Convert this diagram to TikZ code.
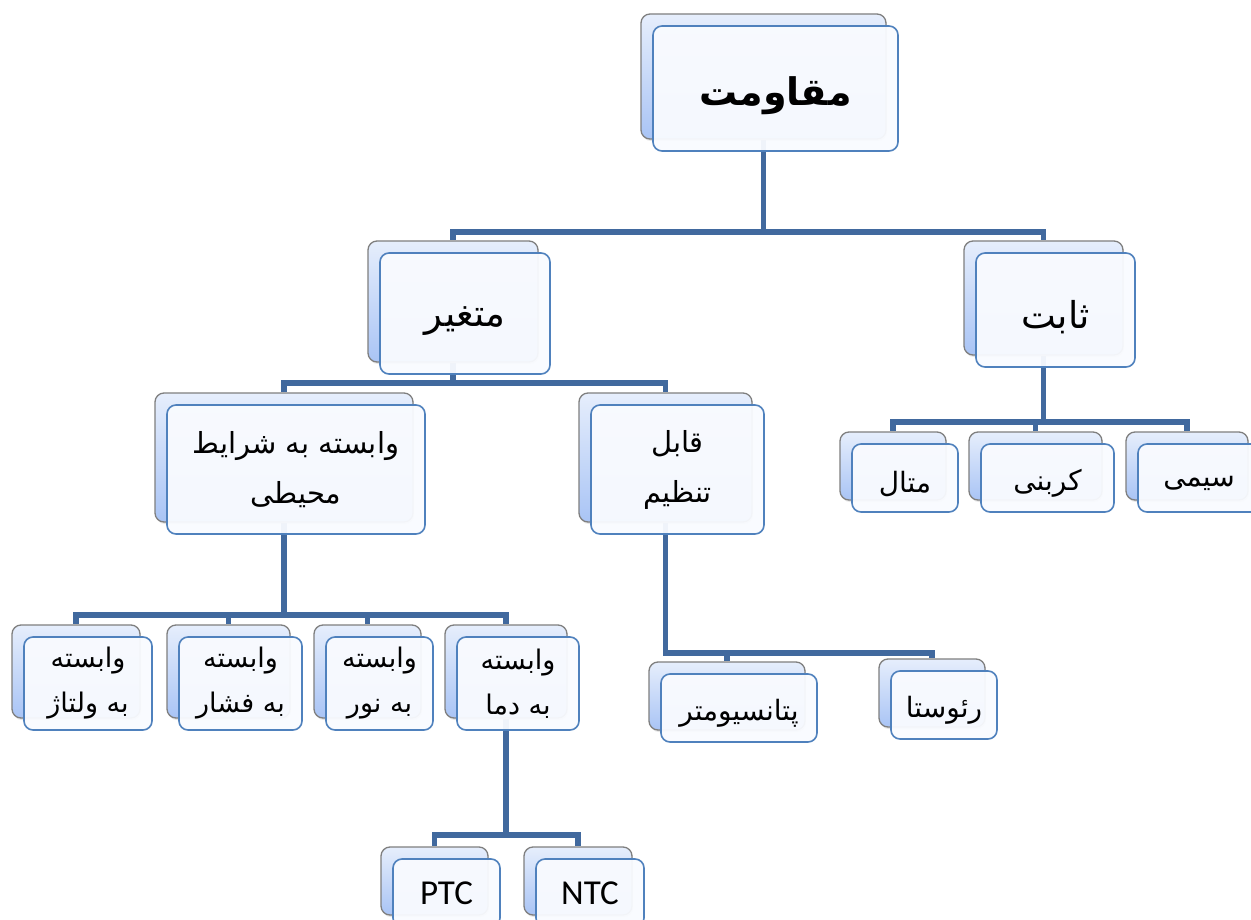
\documentclass[tikz,border=0pt]{standalone}
\usepackage{fontspec}
\usetikzlibrary{calc,shadows}
\TeXXeTstate=1
\newfontfamily\arabicfont[Script=Arabic]{DejaVu Sans}
\newfontfamily\latinfont{Carlito}
\newcommand\ar[1]{\beginR #1\endR}
\newcommand\arr[1]{\raisebox{-0.2em}[\height][\depth]{\beginR #1\endR}}
\definecolor{connc}{HTML}{41699E}
\definecolor{fborder}{HTML}{4F81BD}
\definecolor{ffill}{HTML}{F9FBFF}
\definecolor{btop}{HTML}{E6EEFC}
\definecolor{bbot}{HTML}{A9C4F5}
\definecolor{bborder}{HTML}{7F7F7F}
\pgfdeclarelayer{bg}
\pgfsetlayers{bg,main}
\tikzset{
  backbox/.style={draw=bborder, line width=1.3pt, rounded corners=9pt, top color=btop, bottom color=bbot, inner sep=0pt,
    drop shadow={opacity=0.2, shadow xshift=1pt, shadow yshift=-2pt}},
  frontbox/.style={draw=fborder, line width=1.6pt, rounded corners=9pt, fill=ffill, fill opacity=0.95, text opacity=1, inner sep=0pt, align=center},
  conn/.style={draw=connc, line width=5.5pt},
  lvlA/.style={font=\arabicfont\bfseries\fontsize{38}{46}\selectfont},
  lvlB/.style={font=\arabicfont\fontsize{37}{44}\selectfont},
  lvlC/.style={font=\arabicfont\fontsize{29}{50}\selectfont},
  lvlD/.style={font=\arabicfont\fontsize{27}{45}\selectfont},
  lvlE/.style={font=\arabicfont\fontsize{28}{40}\selectfont},
  lvlL/.style={font=\latinfont\fontsize{35}{40}\selectfont},
}
\newcommand\pair[7]{%
 \node[backbox, minimum width={(#4-#2)*1pt}, minimum height={(#5-#3)*1pt}] (#1) at ({(#2+#4)/2},{(#3+#5)/2}) {};
 \node[frontbox, #7, minimum width={(#4-#2)*1pt}, minimum height={(#5-#3)*1pt}] (#1f) at ($(#1)+(12,12)$) {#6};
}
\begin{document}
\begin{tikzpicture}[x=1pt,y=-1pt]
\useasboundingbox (0,0) rectangle (1251,920);
\pair{top}{641}{14}{886}{139}{\arr{مقاومت}}{lvlA}
\pair{var}{368}{241}{538}{362}{\arr{متغیر}}{lvlB}
\pair{fix}{964}{241}{1123}{355}{\arr{ثابت}}{lvlB}
\pair{env}{155}{393}{413}{522}{\ar{وابسته به شرایط}\\\ar{محیطی}}{lvlC}
\pair{adj}{579}{393}{752}{522}{\ar{قابل}\\\ar{تنظیم}}{lvlC}
\pair{metal}{840}{432}{946}{500}{\arr{متال}}{lvlE}
\pair{carbon}{969}{432}{1102}{500}{\arr{کربنی}}{lvlE}
\pair{wire}{1126}{432}{1248}{500}{\arr{سیمی}}{lvlE}
\pair{volt}{12}{625}{140}{718}{\ar{وابسته}\\\ar{به ولتاژ}}{lvlD}
\pair{press}{167}{625}{290}{718}{\ar{وابسته}\\\ar{به فشار}}{lvlD}
\pair{light}{314}{625}{421}{718}{\ar{وابسته}\\\ar{به نور}}{lvlD}
\pair{temp}{445}{625}{567}{718}{\ar{وابسته}\\\ar{به دما}}{lvlD}
\pair{pot}{649}{662}{805}{730}{\arr{پتانسیومتر}}{lvlE}
\pair{rheo}{879}{659}{985}{727}{\arr{رئوستا}}{lvlE}
\pair{ptc}{381}{847}{488}{915}{PTC}{lvlL}
\pair{ntc}{524}{847}{632}{915}{NTC}{lvlL}
\coordinate (b1) at (0,232);
\coordinate (b2) at (0,383);
\coordinate (b3) at (0,422);
\coordinate (b4) at (0,615);
\coordinate (b5) at (0,653);
\coordinate (b6) at (0,835);
\begin{pgfonlayer}{bg}
\fill[white] (0,0) rectangle (1251,920);
\draw[conn] (top.south) -- (top.south |- b1) -| (var.north);
\draw[conn] (top.south) -- (top.south |- b1) -| (fix.north);
\draw[conn] (var.south) -- (var.south |- b2) -| (env.north);
\draw[conn] (var.south) -- (var.south |- b2) -| (adj.north);
\draw[conn] (fix.south) -- (fix.south |- b3) -| (metal.north);
\draw[conn] (fix.south) -- (fix.south |- b3) -| (carbon.north);
\draw[conn] (fix.south) -- (fix.south |- b3) -| (wire.north);
\draw[conn] (env.south) -- (env.south |- b4) -| (volt.north);
\draw[conn] (env.south) -- (env.south |- b4) -| (press.north);
\draw[conn] (env.south) -- (env.south |- b4) -| (light.north);
\draw[conn] (env.south) -- (env.south |- b4) -| (temp.north);
\draw[conn] (adj.south) -- (adj.south |- b5) -| (pot.north);
\draw[conn] (adj.south) -- (adj.south |- b5) -| (rheo.north);
\draw[conn] (temp.south) -- (temp.south |- b6) -| (ptc.north);
\draw[conn] (temp.south) -- (temp.south |- b6) -| (ntc.north);
\end{pgfonlayer}
\end{tikzpicture}
\end{document}
